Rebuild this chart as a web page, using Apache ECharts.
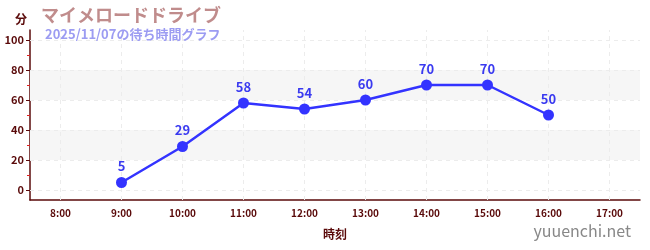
<!DOCTYPE html>
<html><head><meta charset="utf-8">
<script src="https://cdn.jsdelivr.net/npm/echarts@6/dist/echarts.min.js"></script>
<style>html,body{margin:0;padding:0;background:#fff}#c{width:650px;height:250px}</style>
</head><body><div id="c"></div>
<script>
const categories = ['8:00','9:00','10:00','11:00','12:00','13:00','14:00','15:00','16:00','17:00'];
const waitMinutes = [null, 5, 29, 58, 54, 60, 70, 70, 50, null];
const yTicks = [0, 20, 40, 60, 80, 100];
const yMinorTicks = [10, 30, 50, 70, 90];
const yRange = [-6.67, 106.67];
const bands = [[20, 40], [60, 80]];

const chart = echarts.init(document.getElementById('c'), null, {renderer: 'canvas'});
const font = '"Noto Sans CJK JP", "Noto Sans", sans-serif';
const axisColor = '#5a0a0a';
chart.setOption({
  animation: false,
  textStyle: {fontFamily: font},
  title: [
    {text: 'マイメロードドライブ', left: 36, top: 1, textStyle: {fontSize: 18, fontWeight: 'bold', color: '#c08c8c', fontFamily: font}},
    {text: '2025/11/07の待ち時間グラフ', left: 40, top: 23, textStyle: {fontSize: 13, fontWeight: 'bold', color: '#9c9cf2', fontFamily: font}},
    {text: '分', left: 10, top: 8, textStyle: {fontSize: 12, fontWeight: 'bold', color: axisColor, fontFamily: font}},
    {text: 'yuuenchi.net', right: 14, bottom: 6, textStyle: {fontSize: 16, fontWeight: 'normal', color: '#888', fontFamily: font}}
  ],
  grid: {left: 30, right: 10, top: 30, bottom: 50},
  xAxis: {
    type: 'category', data: categories, boundaryGap: true,
    name: '時刻', nameLocation: 'middle', nameGap: 28,
    nameTextStyle: {fontSize: 12, fontWeight: 'bold', color: axisColor, fontFamily: font},
    axisLine: {onZero: false, lineStyle: {color: axisColor, width: 1.5}},
    axisTick: {alignWithLabel: true, inside: true, length: 4, lineStyle: {color: '#888', width: 2}},
    axisLabel: {fontSize: 10, color: axisColor, fontWeight: 'bold', margin: 8, interval: 0},
    splitLine: {show: false}
  },
  yAxis: [{
    type: 'value', min: yRange[0], max: yRange[1],
    axisLine: {show: true, lineStyle: {color: axisColor, width: 1.5}},
    axisTick: {show: true, length: 4, customValues: yTicks, lineStyle: {color: axisColor}},
    axisLabel: {customValues: yTicks, fontSize: 11, color: axisColor, fontWeight: 'bold', margin: 6},
    splitLine: {show: false}
  }, {
    type: 'value', min: yRange[0], max: yRange[1], position: 'left',
    axisLine: {show: false},
    axisTick: {show: true, length: 3, customValues: yMinorTicks, lineStyle: {color: '#e02020'}},
    axisLabel: {show: false, customValues: yMinorTicks},
    splitLine: {show: false}
  }],
  series: [{
    type: 'line', data: [], yAxisIndex: 0, z: 1, silent: true,
    markArea: {silent: true, itemStyle: {color: '#f6f6f6'}, data: bands.map(b => [{yAxis: b[0]}, {yAxis: b[1]}])},
    markLine: {silent: true, symbol: 'none', label: {show: false}, lineStyle: {color: '#ececec', type: [4, 4], width: 1},
      data: yTicks.map(v => ({yAxis: v})).concat(categories.map(c => ({xAxis: c})))}
  }, {
    type: 'line', data: waitMinutes, yAxisIndex: 0, z: 5,
    symbol: 'circle', symbolSize: 11,
    lineStyle: {color: '#3333ff', width: 2.5},
    itemStyle: {color: '#3333ff'},
    label: {show: true, position: 'top', fontSize: 13, fontWeight: 'bold', color: '#3a3af0', distance: 4}
  }]
});
</script></body></html>
